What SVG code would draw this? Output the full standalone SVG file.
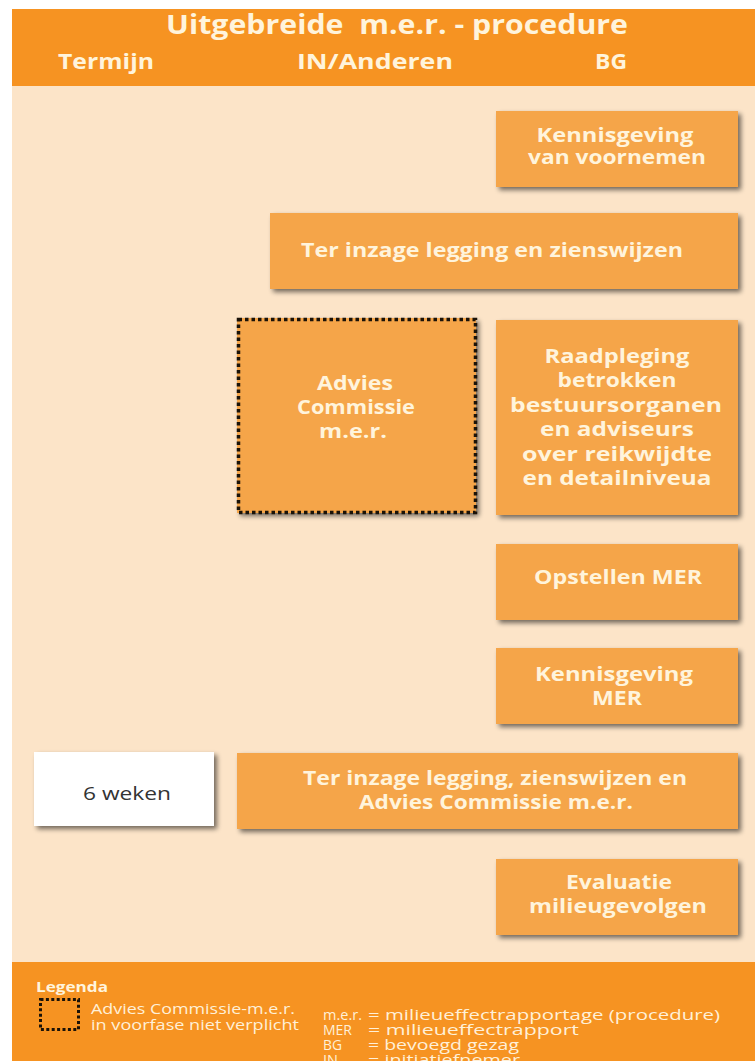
<svg xmlns="http://www.w3.org/2000/svg" width="755" height="1061" viewBox="0 0 755 1061">
<defs>
<filter id="sh" x="-10%" y="-10%" width="125%" height="130%">
<feGaussianBlur in="SourceAlpha" stdDeviation="2.5"/>
<feOffset dx="3" dy="3" result="b"/>
<feComponentTransfer><feFuncA type="linear" slope="0.55"/></feComponentTransfer>
<feMerge><feMergeNode/><feMergeNode in="SourceGraphic"/></feMerge>
</filter>
<style>
.box{fill:#F5A548;filter:url(#sh)}
.t{font-family:"Open Sans","Noto Sans",sans-serif;font-weight:700;fill:#FFF4DC;text-anchor:middle;font-size:20px}
.h{font-family:"Open Sans","Noto Sans",sans-serif;font-weight:700;fill:#FFF4DC}
.l{font-family:"Open Sans","Noto Sans",sans-serif;fill:#FFF0D8;font-size:14px}
.r{font-family:"Open Sans","Noto Sans",sans-serif;fill:#FFF0D8;font-size:14px}
</style>
</defs>
<rect x="0" y="0" width="755" height="1061" fill="#FFFFFF"/>
<rect x="12" y="9" width="743" height="1052" fill="#FCE4C8"/>
<g id="header">
<rect x="12" y="9" width="743" height="77" fill="#F69322"/>
<text class="h" x="397" y="34" text-anchor="middle" font-size="26" textLength="462" lengthAdjust="spacingAndGlyphs" xml:space="preserve">Uitgebreide  m.e.r. - procedure</text>
<text class="h" x="106" y="69" text-anchor="middle" font-size="21" textLength="96" lengthAdjust="spacingAndGlyphs">Termijn</text>
<text class="h" x="375" y="69" text-anchor="middle" font-size="21" textLength="156" lengthAdjust="spacingAndGlyphs">IN/Anderen</text>
<text class="h" x="611" y="69" text-anchor="middle" font-size="21" textLength="32" lengthAdjust="spacingAndGlyphs">BG</text>
</g>
<g id="connectors"></g>
<g id="n1"><rect class="box" x="496" y="111" width="242" height="76"/>
<text class="t" x="615" y="142" textLength="157" lengthAdjust="spacingAndGlyphs">Kennisgeving</text><text class="t" x="617" y="164" textLength="178" lengthAdjust="spacingAndGlyphs">van voornemen</text></g>
<g id="n2"><rect class="box" x="270" y="213" width="468" height="76"/>
<text class="t" x="492" y="257" textLength="382" lengthAdjust="spacingAndGlyphs">Ter inzage legging en zienswijzen</text></g>
<g id="n3"><rect class="box" x="237" y="318" width="239" height="195"/>
<rect x="238.5" y="319.5" width="237" height="193" fill="none" stroke="#1A1208" stroke-width="3.5" stroke-dasharray="3.5 3"/>
<text class="t" x="355" y="390" textLength="76" lengthAdjust="spacingAndGlyphs">Advies</text><text class="t" x="356" y="414" textLength="118" lengthAdjust="spacingAndGlyphs">Commissie</text><text class="t" x="353" y="438" textLength="68" lengthAdjust="spacingAndGlyphs">m.e.r.</text></g>
<g id="n4"><rect class="box" x="496" y="320" width="242" height="195"/>
<text class="t" x="617" y="363" textLength="145" lengthAdjust="spacingAndGlyphs">Raadpleging</text><text class="t" x="617" y="387" textLength="119" lengthAdjust="spacingAndGlyphs">betrokken</text><text class="t" x="616" y="412" textLength="212" lengthAdjust="spacingAndGlyphs">bestuursorganen</text><text class="t" x="617" y="436" textLength="154" lengthAdjust="spacingAndGlyphs">en adviseurs</text><text class="t" x="617" y="461" textLength="190" lengthAdjust="spacingAndGlyphs">over reikwijdte</text><text class="t" x="617" y="485" textLength="189" lengthAdjust="spacingAndGlyphs">en detailniveua</text></g>
<g id="n5"><rect class="box" x="496" y="544" width="242" height="76"/>
<text class="t" x="618" y="584" textLength="168" lengthAdjust="spacingAndGlyphs">Opstellen MER</text></g>
<g id="n6"><rect class="box" x="496" y="648" width="242" height="76"/>
<text class="t" x="614" y="681" textLength="158" lengthAdjust="spacingAndGlyphs">Kennisgeving</text><text class="t" x="617" y="705" textLength="50" lengthAdjust="spacingAndGlyphs">MER</text></g>
<g id="n7"><rect x="34" y="752" width="180" height="74" fill="#FFFFFF" filter="url(#sh)"/>
<text x="127" y="800" text-anchor="middle" font-family="'Open Sans','Noto Sans',sans-serif" font-size="19" fill="#333333" textLength="88" lengthAdjust="spacingAndGlyphs">6 weken</text></g>
<g id="n8"><rect class="box" x="237" y="753" width="501" height="76"/>
<text class="t" x="495" y="785" textLength="384" lengthAdjust="spacingAndGlyphs">Ter inzage legging, zienswijzen en</text><text class="t" x="496" y="809" textLength="274" lengthAdjust="spacingAndGlyphs">Advies Commissie m.e.r.</text></g>
<g id="n9"><rect class="box" x="496" y="859" width="242" height="76"/>
<text class="t" x="619" y="889" textLength="106" lengthAdjust="spacingAndGlyphs">Evaluatie</text><text class="t" x="618" y="913" textLength="178" lengthAdjust="spacingAndGlyphs">milieugevolgen</text></g>
<g id="legend">
<rect x="12" y="962" width="743" height="99" fill="#F69322"/>
<text class="h" x="36" y="992" font-size="15" textLength="72" lengthAdjust="spacingAndGlyphs">Legenda</text>
<rect x="40.5" y="999.5" width="38" height="30" fill="none" stroke="#1A1208" stroke-width="3" stroke-dasharray="3 2.4"/>
<text class="l" x="91" y="1014" textLength="204" lengthAdjust="spacingAndGlyphs">Advies Commissie-m.e.r.</text>
<text class="l" x="91" y="1030" textLength="208" lengthAdjust="spacingAndGlyphs">in voorfase niet verplicht</text>
<text class="r" x="323" y="1020" textLength="39" lengthAdjust="spacingAndGlyphs">m.e.r.</text><text class="r" x="368" y="1020" textLength="352" lengthAdjust="spacingAndGlyphs">= milieueffectrapportage (procedure)</text>
<text class="r" x="323" y="1035" textLength="29" lengthAdjust="spacingAndGlyphs">MER</text><text class="r" x="368" y="1035" textLength="211" lengthAdjust="spacingAndGlyphs">= milieueffectrapport</text>
<text class="r" x="323" y="1050" textLength="19" lengthAdjust="spacingAndGlyphs">BG</text><text class="r" x="368" y="1050" textLength="151" lengthAdjust="spacingAndGlyphs">= bevoegd gezag</text>
<text class="r" x="323" y="1065" textLength="15" lengthAdjust="spacingAndGlyphs">IN</text><text class="r" x="368" y="1065" textLength="152" lengthAdjust="spacingAndGlyphs">= initiatiefnemer</text>
</g>
</svg>
